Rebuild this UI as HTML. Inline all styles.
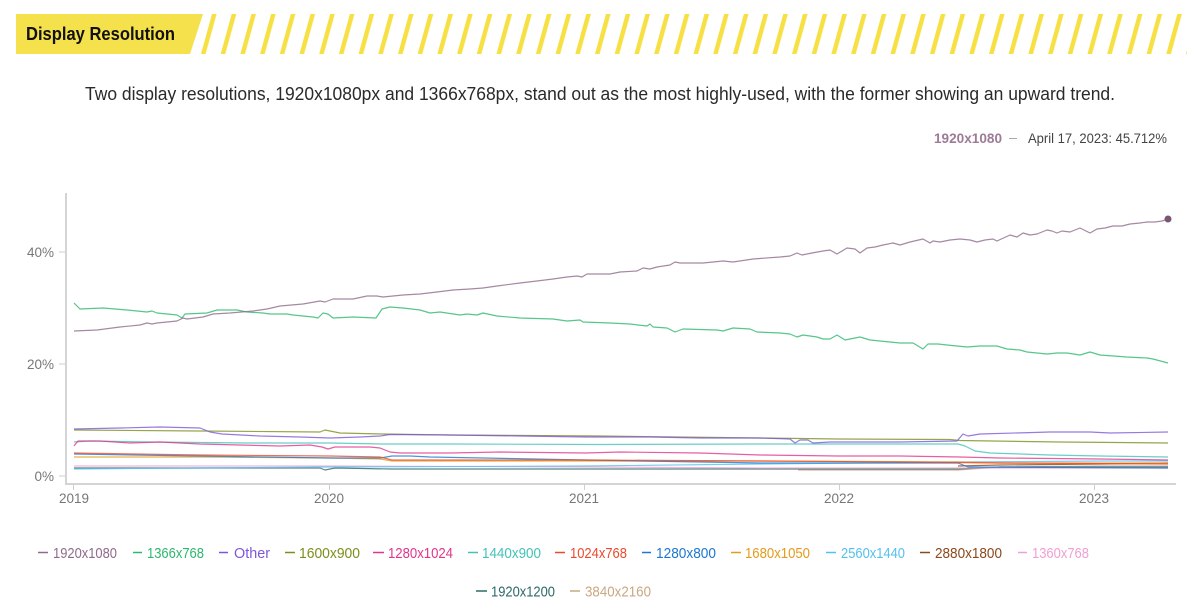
<!DOCTYPE html>
<html><head><meta charset="utf-8"><style>
html,body{margin:0;padding:0;background:#fff;}
svg{display:block;}
text{font-family:"Liberation Sans",sans-serif;}
</style></head><body>
<svg width="1198" height="609" viewBox="0 0 1198 609" xmlns="http://www.w3.org/2000/svg">
<defs>
<pattern id="st" patternUnits="userSpaceOnUse" x="18.85" y="0" width="19.7" height="609" patternTransform="skewX(-15.4)">
<rect x="0" y="0" width="4.6" height="609" fill="#f7e044"/>
</pattern>
</defs>
<!-- header -->
<polygon points="16,14 203,14 190,54 16,54" fill="#f5e14b"/>
<polygon points="205,14 1187,14 1187,54 192,54" fill="url(#st)"/>
<text x="26" y="40" font-size="18.5" font-weight="bold" fill="#111" textLength="149" lengthAdjust="spacingAndGlyphs">Display Resolution</text>
<text x="85" y="100" font-size="18" fill="#2a2a2a" textLength="1030" lengthAdjust="spacingAndGlyphs">Two display resolutions, 1920x1080px and 1366x768px, stand out as the most highly-used, with the former showing an upward trend.</text>
<text x="934" y="143" font-size="14" font-weight="bold" fill="#9c7a98" textLength="68" lengthAdjust="spacingAndGlyphs">1920x1080</text>
<line x1="1009" y1="138.5" x2="1017" y2="138.5" stroke="#aaa" stroke-width="1"/>
<text x="1028" y="143" font-size="14" fill="#444" textLength="139" lengthAdjust="spacingAndGlyphs">April 17, 2023: 45.712%</text>

<!-- axes -->
<line x1="66" y1="193" x2="66" y2="485" stroke="#d4d4d4" stroke-width="2"/>
<line x1="65" y1="484" x2="1176" y2="484" stroke="#d4d4d4" stroke-width="2"/>
<g stroke="#cfcfcf" stroke-width="1">
<line x1="59" y1="252" x2="65" y2="252"/>
<line x1="59" y1="364" x2="65" y2="364"/>
<line x1="59" y1="476" x2="65" y2="476"/>
<line x1="73.5" y1="484" x2="73.5" y2="490"/>
<line x1="329.5" y1="484" x2="329.5" y2="490"/>
<line x1="584.5" y1="484" x2="584.5" y2="490"/>
<line x1="839.5" y1="484" x2="839.5" y2="490"/>
<line x1="1094.5" y1="484" x2="1094.5" y2="490"/>
</g>
<g font-size="13.5" fill="#777" text-anchor="end">
<text x="54" y="257">40%</text>
<text x="54" y="369">20%</text>
<text x="54" y="481">0%</text>
</g>
<g font-size="13.5" fill="#777" text-anchor="middle">
<text x="74" y="503">2019</text>
<text x="329" y="503">2020</text>
<text x="584" y="503">2021</text>
<text x="839" y="503">2022</text>
<text x="1094" y="503">2023</text>
</g>

<!-- series -->
<g fill="none" stroke-width="1.2" stroke-linejoin="round" stroke-opacity="0.8">
<polyline stroke="#c9a884" points="798,470 900,470 958,470 1000,467 1100,466 1168,466"/>
<polyline stroke="#2d6a68" points="74,468 200,468 320,468 325,470 335,468 390,469 585,469 760,469 958,469 1000,467 1168,467"/>
<polyline stroke="#f0a0d2" points="74,466 200,466 330,466 585,467 760,468 958,468 1168,468"/>
<polyline stroke="#8b4a1c" points="958,466 1000,465 1100,464 1168,463"/>
<polyline stroke="#55c0ef" points="74,469 200,468 330,467 585,466 760,464 958,462 1100,461 1168,461"/>
<polyline stroke="#e39c1c" points="74,457 200,457 330,458 380,459 392,461 585,461 760,461 958,462 1000,463 1168,463"/>
<polyline stroke="#1c78d2" points="74,454 200,456 330,458 380,458 392,456 410,456 430,457 585,460 760,463 958,463 968,467 1168,468"/>
<polyline stroke="#ec4a2d" points="74,453 200,455 330,456 380,457 392,460 420,460 585,460 760,461 900,462 1000,463 1168,464"/>
<polyline stroke="#44c2b8" points="74,442 90,441 150,442 250,443 330,443 383,444 450,444 600,444.5 760,444 958,444 965,446 975,451 990,453 1050,455 1100,456 1168,457"/>
<polyline stroke="#e2358c" points="74,446 78,441 100,441 130,443 160,442 200,444 240,445 280,446 310,445 322,447 328,449 335,447 370,447 380,448 390,452 400,453 450,453 500,452 585,453 620,452 700,453 760,455 838,456 900,456 960,457 1000,458 1100,459 1168,460"/>
<polyline stroke="#7b8f1d" points="74,430 200,431 320,432 325,430 330,431 340,433 383,434 450,435 600,436 760,438 838,439 950,439.5 960,440.5 1060,442 1168,443"/>
<polyline stroke="#7e57d9" points="74,429 120,428 160,427 200,428 210,432 222,434 260,436 300,437 330,438 360,437 380,436 390,434.5 450,435 520,436 585,437 650,437 700,438 760,438 790,439 795,443 800,440 808,440 813,443 830,442 900,442 957,441 963,434 968,436 980,434 1050,432 1090,432 1110,433 1168,432"/>
<polyline stroke="#2cb86d" points="74,303 80,309 103,308 127,310 147,312 152,311 157,313 177,315 182,318 185,314 207,313 217,310 237,310 247,312 263,313 270,314 287,314 293,315 313,317 318,318 323,313 328,314 333,318 353,317 376,318 382,309 390,307 403,308 420,310 430,313 440,312 460,315 467,314 477,315 483,313 497,316 520,318 553,319 567,321 580,320 583,322 610,323 630,324 647,326 650,324 653,327 667,328 675,332 683,329 717,330 723,331 733,328 750,329 757,332 780,333 790,334 797,337 803,335 817,337 823,339 830,339 837,335 845,340 860,337 870,340 890,342 900,343 913,343 923,349 928,344 938,344 947,345 967,347 980,346 997,346 1007,349 1020,350 1027,352 1047,354 1057,353 1067,353 1080,355 1090,352 1100,355 1127,357 1147,358 1153,359 1168,363"/>
<polyline stroke="#8e6b8b" points="74,331 97,330 120,327 140,325 147,323 152,324 157,323 177,321 183,318 187,319 203,317 213,314 230,313 253,311 267,309 280,306 303,304 320,301 325,302 333,299 353,299 367,296 377,296 383,297 403,295 420,294 437,292 453,290 470,289 483,288 497,286 520,283 537,281 553,279 567,277 577,276 582,277 587,274 610,274 620,272 637,271 643,268 650,269 657,267 670,265 675,262 680,263 703,263 723,261 733,262 753,259 780,257 790,256 797,253 802,255 812,253 823,251 830,250 837,254 847,248 855,249 860,253 867,248 875,247 883,245 893,243 900,245 910,242 923,239 930,243 933,241 940,242 950,240 960,239 970,240 977,242 985,240 993,239 997,241 1010,235 1017,237 1023,233 1030,235 1037,234 1047,230 1052,231 1057,233 1062,231 1070,232 1080,228 1090,233 1097,229 1105,228 1113,226 1122,226 1130,224 1140,223 1147,222 1155,222 1162,221 1168,219"/>
</g>
<circle cx="1168" cy="219" r="3.5" fill="#7a5676"/>

<!-- legend -->
<g stroke-width="1.5">
<line x1="38" y1="552.5" x2="48" y2="552.5" stroke="#8e6b8b"/>
<line x1="133" y1="552.5" x2="142" y2="552.5" stroke="#2cb86d"/>
<line x1="219" y1="552.5" x2="228" y2="552.5" stroke="#7e57d9"/>
<line x1="285" y1="552.5" x2="295" y2="552.5" stroke="#7b8f1d"/>
<line x1="373" y1="552.5" x2="384" y2="552.5" stroke="#e2358c"/>
<line x1="468" y1="552.5" x2="478" y2="552.5" stroke="#44c2b8"/>
<line x1="555" y1="552.5" x2="565" y2="552.5" stroke="#ec4a2d"/>
<line x1="642" y1="552.5" x2="651" y2="552.5" stroke="#1c78d2"/>
<line x1="731" y1="552.5" x2="741" y2="552.5" stroke="#e39c1c"/>
<line x1="826" y1="552.5" x2="836" y2="552.5" stroke="#55c0ef"/>
<line x1="920" y1="552.5" x2="930" y2="552.5" stroke="#8b4a1c"/>
<line x1="1018" y1="552.5" x2="1027" y2="552.5" stroke="#f0a0d2"/>
<line x1="476" y1="591" x2="487" y2="591" stroke="#2d6a68"/>
<line x1="570" y1="591" x2="580" y2="591" stroke="#c9a884"/>
</g>
<g font-size="15">
<text x="53" y="558" fill="#8e6b8b" textLength="64" lengthAdjust="spacingAndGlyphs">1920x1080</text>
<text x="147" y="558" fill="#2cb86d" textLength="57" lengthAdjust="spacingAndGlyphs">1366x768</text>
<text x="234" y="558" fill="#7e57d9" textLength="36" lengthAdjust="spacingAndGlyphs">Other</text>
<text x="299" y="558" fill="#7b8f1d" textLength="61" lengthAdjust="spacingAndGlyphs">1600x900</text>
<text x="388" y="558" fill="#e2358c" textLength="65" lengthAdjust="spacingAndGlyphs">1280x1024</text>
<text x="482" y="558" fill="#44c2b8" textLength="59" lengthAdjust="spacingAndGlyphs">1440x900</text>
<text x="570" y="558" fill="#ec4a2d" textLength="57" lengthAdjust="spacingAndGlyphs">1024x768</text>
<text x="656" y="558" fill="#1c78d2" textLength="60" lengthAdjust="spacingAndGlyphs">1280x800</text>
<text x="745" y="558" fill="#e39c1c" textLength="65" lengthAdjust="spacingAndGlyphs">1680x1050</text>
<text x="841" y="558" fill="#55c0ef" textLength="64" lengthAdjust="spacingAndGlyphs">2560x1440</text>
<text x="935" y="558" fill="#8b4a1c" textLength="67" lengthAdjust="spacingAndGlyphs">2880x1800</text>
<text x="1032" y="558" fill="#f0a0d2" textLength="57" lengthAdjust="spacingAndGlyphs">1360x768</text>
<text x="491" y="596.5" fill="#2d6a68" textLength="64" lengthAdjust="spacingAndGlyphs">1920x1200</text>
<text x="585" y="596.5" fill="#c9a884" textLength="66" lengthAdjust="spacingAndGlyphs">3840x2160</text>
</g>
</svg>
</body></html>
